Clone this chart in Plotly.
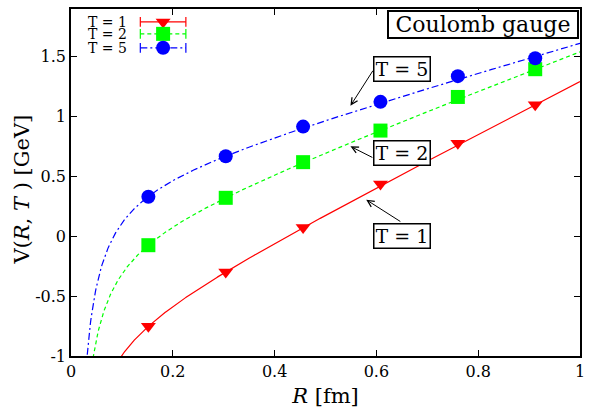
import numpy as np
import plotly.graph_objects as go

# Static potential V(R,T) measured at three time extents
r_fm = [0.152, 0.304, 0.456, 0.608, 0.760, 0.912]
v_t1 = [-0.752, -0.298, 0.074, 0.438, 0.777, 1.099]
v_t2 = [-0.074, 0.322, 0.620, 0.884, 1.165, 1.397]
v_t5 = [0.331, 0.669, 0.917, 1.124, 1.339, 1.488]
series_labels = ["T = 1", "T = 2", "T = 5"]

# Cornell-type fits V(R) = V0 - A/R + sigma*R  (GeV, fm)
fit_v0 = [-0.829, -0.012, 0.460]
fit_a = [0.0382, 0.0464, 0.0470]
fit_sigma = [2.160, 1.600, 1.200]

x_ticks = [0, 0.2, 0.4, 0.6, 0.8, 1]
x_ticktext = ["0", "0.2", "0.4", "0.6", "0.8", "1"]
y_ticks = [-1, -0.5, 0, 0.5, 1, 1.5]
y_ticktext = ["-1", "-0.5", "0", "0.5", "1", "1.5"]

colors = ["#ff0000", "#00ff00", "#0000ff"]
dashes = ["solid", "4px,3px", "7px,3px,2px,3px"]
symbols = ["triangle-down", "square", "circle"]
msizes = [13, 14, 14]
values = [v_t1, v_t2, v_t5]

SERIF = "DejaVu Serif"

fig = go.Figure()

r_curve = np.linspace(0.02, 1.0, 600)
for i in range(3):
    v_curve = fit_v0[i] - fit_a[i] / r_curve + fit_sigma[i] * r_curve
    fig.add_trace(go.Scatter(
        x=r_curve, y=v_curve, mode="lines",
        line=dict(color=colors[i], width=1.2, dash=dashes[i]),
        showlegend=False, hoverinfo="skip"))

for i in range(3):
    fig.add_trace(go.Scatter(
        x=r_fm, y=values[i], mode="markers",
        marker=dict(symbol=symbols[i], size=msizes[i], color=colors[i],
                    line=dict(width=0)),
        showlegend=False, cliponaxis=False))

# Key drawn in an overlay frame measured in pixels from the plot's top-left
key_rows = [13, 25, 39]
key_x0, key_x1, key_mid, key_text_right = 70, 116, 93, 59
for i in range(3):
    fig.add_trace(go.Scatter(
        x=[key_x0, key_x1], y=[key_rows[i], key_rows[i]], mode="lines+markers",
        line=dict(color=colors[i], width=1.2, dash=dashes[i]),
        marker=dict(symbol="line-ns", size=7, line=dict(color=colors[i], width=1.2)),
        xaxis="x2", yaxis="y2", showlegend=False, hoverinfo="skip"))
    fig.add_trace(go.Scatter(
        x=[key_mid], y=[key_rows[i]], mode="markers",
        marker=dict(symbol=symbols[i], size=msizes[i], color=colors[i], line=dict(width=0)),
        xaxis="x2", yaxis="y2", showlegend=False, hoverinfo="skip"))
    fig.add_annotation(
        x=key_text_right, y=key_rows[i], xref="x2", yref="y2",
        text=series_labels[i], showarrow=False, xanchor="right", yanchor="middle",
        font=dict(family=SERIF, size=14, color="black"))

# Boxed labels with arrows pointing at each fit curve
label_boxes = [  # (text, x, y)
    ("T = 5", 0.651, 1.397),
    ("T = 2", 0.651, 0.698),
    ("T = 1", 0.651, 0.004),
]
arrows = [  # (tail x, tail y, head x, head y)
    (0.595, 1.397, 0.549, 1.091),
    (0.595, 0.653, 0.549, 0.752),
    (0.650, 0.116, 0.580, 0.306),
]
for (tx, ty, hx, hy) in arrows:
    fig.add_annotation(
        x=hx, y=hy, ax=tx, ay=ty, xref="x", yref="y", axref="x", ayref="y",
        text="", showarrow=True, arrowhead=5, arrowsize=1.3, arrowwidth=1,
        arrowcolor="black", standoff=0, startstandoff=0)
for (txt, bx, by) in label_boxes:
    fig.add_annotation(
        x=bx, y=by, xref="x", yref="y", text=txt, showarrow=False,
        font=dict(family=SERIF, size=19, color="black"), bgcolor="white",
        bordercolor="black", borderwidth=1.5, borderpad=1, width=53, height=21,
        align="center", valign="middle")

fig.add_annotation(
    x=0.809, y=1.769, xref="x", yref="y", text="Coulomb gauge", showarrow=False,
    font=dict(family=SERIF, size=22, color="black"), bgcolor="white",
    bordercolor="black", borderwidth=2, borderpad=0, width=188, height=25,
    align="center", valign="middle")

# Vertical axis title, set slightly below the axis midpoint
fig.add_annotation(
    x=-0.0953, y=0.481, xref="paper", yref="paper",
    text="V(<i>R</i>, <i>T</i> ) [GeV]", textangle=-90, showarrow=False,
    xanchor="center", yanchor="middle",
    font=dict(family=SERIF, size=21, color="black"))

axis_common = dict(
    showgrid=False, zeroline=False, showline=True, linecolor="black", linewidth=1.5,
    mirror="ticks", ticks="inside", ticklen=6, tickwidth=1, tickcolor="black",
    tickfont=dict(family=SERIF, size=16, color="black"))

fig.update_layout(
    width=592, height=411, margin=dict(l=71, r=7, t=7, b=55),
    paper_bgcolor="white", plot_bgcolor="white", showlegend=False,
    font=dict(family=SERIF, color="black"),
    xaxis=dict(range=[0, 1], tickvals=x_ticks, ticktext=x_ticktext,
               title=dict(text="<i>R</i> [fm]", font=dict(family=SERIF, size=21, color="black"),
                          standoff=8),
               **axis_common),
    yaxis=dict(range=[-1, 1.9], tickvals=y_ticks, ticktext=y_ticktext, **axis_common),
    xaxis2=dict(range=[0, 514], overlaying="x", visible=False, anchor="y2"),
    yaxis2=dict(range=[349, 0], overlaying="y", visible=False, anchor="x2"),
)

fig.write_html("out.html")
